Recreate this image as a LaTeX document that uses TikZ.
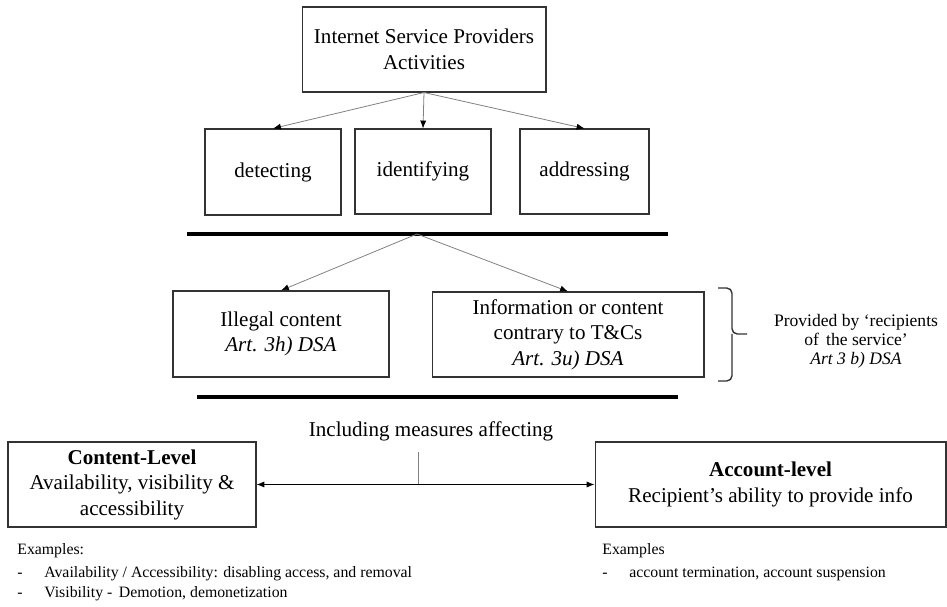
\documentclass[tikz,border=0pt]{standalone}
\usepackage{fontspec}
\setmainfont{Liberation Serif}
\usepackage{tikz}
\usetikzlibrary{arrows.meta}

\tikzset{
    box/.style={draw=black!80, line width=0.6pt, align=center, inner sep=2pt,
        font=\fontsize{12}{14.5}\selectfont},
    link/.style={draw=black!50, line width=0.45pt,
        -{Latex[length=4.5pt, width=3.5pt, color=black]}},
    bar/.style={line width=1.8pt},
    note/.style={align=center, font=\fontsize{10}{10.8}\selectfont},
    small/.style={anchor=base west, inner sep=0pt, font=\fontsize{9}{11}\selectfont},
}

\begin{document}
\begin{tikzpicture}[x=0.02cm, y=-0.02cm]
    \useasboundingbox (0,0) rectangle (947,607);

    % Activities
    \node[box, minimum width=4.88cm, minimum height=1.7cm] (isp) at (424,49.5)
        {Internet Service Providers\\Activities};
    \node[box, minimum width=2.72cm, minimum height=1.72cm] (detect) at (273,172) {detecting};
    \node[box, minimum width=2.72cm, minimum height=1.7cm] (identify) at (423,171.5) {identifying};
    \node[box, minimum width=2.58cm, minimum height=1.7cm] (address) at (584.5,171.5) {addressing};
    \foreach \n in {detect, identify, address}
        \draw[link] (isp.south) -- (\n.north);

    % First bar
    \coordinate (bar1w) at (187,234);
    \coordinate (bar1e) at (668,234);
    \coordinate (split) at (417,234);
    \draw[bar] (bar1w) -- (bar1e);

    % Kinds of content
    \node[box, minimum width=4.32cm, minimum height=1.72cm] (illegal) at (281,334)
        {Illegal content\\\textit{Art. 3h) DSA}};
    \node[box, minimum width=5.44cm, minimum height=1.7cm] (info) at (568,334.5)
        {Information or content\\contrary to T\&Cs\\\textit{Art. 3u) DSA}};
    \draw[link] (split) -- (illegal.north);
    \draw[link] (split) -- (info.north);

    % Brace and note
    \coordinate (bracetop) at (718,288);
    \coordinate (bracebot) at (718,381);
    \coordinate (bracetip) at (747,334);
    \draw[black!80, line width=0.8pt, rounded corners=3pt]
        (bracetop) -- (732,288) -- (732,334) -- (bracetip)
        (bracebot) -- (732,381) -- (732,334);
    \node[note] (provided) at (856,341)
        {Provided by ‘recipients\\of\, the service’\\\textit{Art 3 b) DSA}};

    % Second bar
    \coordinate (bar2w) at (197,397);
    \coordinate (bar2e) at (678,397);
    \draw[bar] (bar2w) -- (bar2e);

    % Measures
    \node[anchor=base, inner sep=0pt, font=\fontsize{12}{14.5}\selectfont] (incl) at (431,437)
        {Including measures affecting};
    \node[box, minimum width=4.96cm, minimum height=1.7cm] (content) at (132,484.5)
        {\textbf{Content-Level}\\Availability, visibility \&\\accessibility};
    \node[box, minimum width=7.02cm, minimum height=1.7cm] (account) at (770.5,484.5)
        {\textbf{Account-level}\\Recipient’s ability to provide info};
    \coordinate (stem) at (418,452);
    \coordinate (hub) at (418,484.5);
    \draw[black!50, line width=0.45pt] (stem) -- (hub);
    \draw[line width=0.5pt, {Latex[length=4.5pt, width=3.5pt]}-{Latex[length=4.5pt, width=3.5pt]}]
        (content.east) -- (account.west);

    % Examples
    \node[small] (exl) at (17,555) {Examples:};
    \node[small] (exl1) at (17,578) {\makebox[0.54cm][l]{-}Availability / Accessibility: disabling access, and removal};
    \node[small] (exl2) at (17,598) {\makebox[0.54cm][l]{-}Visibility -\, Demotion, demonetization};
    \node[small] (exr) at (602,555) {Examples};
    \node[small] (exr1) at (602,578) {\makebox[0.54cm][l]{-}account termination, account suspension};
\end{tikzpicture}
\end{document}
